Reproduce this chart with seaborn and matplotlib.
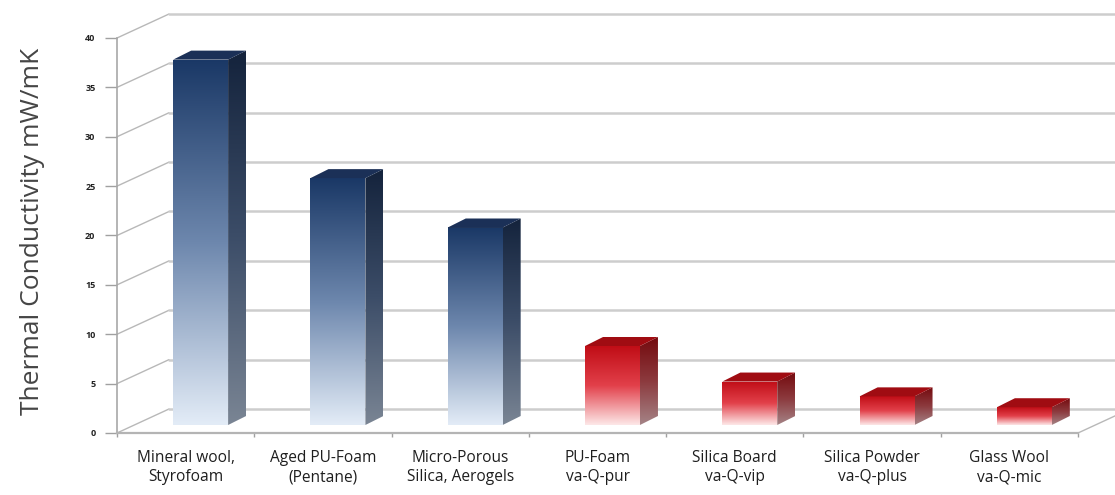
import numpy as np
import pandas as pd
import matplotlib
matplotlib.use('Agg')
import matplotlib.pyplot as plt
import matplotlib.transforms as mtransforms
from matplotlib.colors import LinearSegmentedColormap
from matplotlib.patches import Polygon
import seaborn as sns

# data
materials = ['Mineral wool,\nStyrofoam', 'Aged PU-Foam\n(Pentane)', 'Micro-Porous\nSilica, Aerogels',
             'PU-Foam\nva-Q-pur', 'Silica Board\nva-Q-vip', 'Silica Powder\nva-Q-plus',
             'Glass Wool\nva-Q-mic']
conductivity = [37, 25, 20, 8, 4.4, 2.9, 1.8]
kind = ['conventional'] * 3 + ['vip'] * 4
y_ticks = [0, 5, 10, 15, 20, 25, 30, 35, 40]

# gradient colours: (bottom, mid, top)
styles = {
    'conventional': dict(front=('#e3ecf7', '#6d87ad', '#1a3866'), side=('#7a8594', '#3c4d68', '#14233c'),
                         top='#1b3057'),
    'vip': dict(front=('#fde8e8', '#e2404a', '#c00d16'), side=('#a58487', '#8c3a3e', '#740a0e'),
                top='#a00c12'),
}

sns.set_style('white')
plt.rcParams['font.family'] = ['Open Sans', 'DejaVu Sans']

W, H = 1115, 495
fig = plt.figure(figsize=(W / 100, H / 100), dpi=100)
ax_l, ax_r, ax_b, ax_t = 117, 1078, 433, 38
ax = fig.add_axes([ax_l / W, (H - ax_b) / H, (ax_r - ax_l) / W, (ax_b - ax_t) / H])

df = pd.DataFrame({'material': materials, 'value': conductivity, 'kind': kind})
sns.barplot(data=df, x='material', y='value', hue='material', dodge=False, width=0.4,
            palette=['#1a3866'] * 3 + ['#c30f18'] * 4, legend=False, ax=ax, zorder=2)

# pixel -> data unit helpers
px_x = (ax_r - ax_l) / 7.0
px_y = (ax_b - ax_t) / 40.0

# back wall / side wall
wdx, wdy = 52 / px_x, 24 / px_y
for yv in y_ticks:
    ax.plot([-0.5, -0.5 + wdx], [yv, yv + wdy], color='#b8b8b8', lw=1.0, clip_on=False, zorder=0)
    ax.plot([-0.5 + wdx, 7.6], [yv + wdy, yv + wdy], color='#cdcdcd', lw=1.8, clip_on=False, zorder=0)
ax.plot([6.5, 6.5 + wdx], [0, wdy], color='#b8b8b8', lw=1.0, clip_on=False, zorder=0)

# 3d-ish bars
bar_off = ax.transData + mtransforms.ScaledTranslation(15 / 100, 8 / 100, fig.dpi_scale_trans)
ddx, ddy = 18 / px_x, 9 / px_y


def gradient(extent, cols, clip, z):
    cmap = LinearSegmentedColormap.from_list('g', list(cols))
    im = ax.imshow(np.linspace(0, 1, 256).reshape(-1, 1), cmap=cmap, extent=extent,
                   origin='lower', aspect='auto', transform=bar_off, zorder=z,
                   interpolation='bicubic')
    im.set_clip_path(clip)


patches = sorted([p for p in ax.patches if p.get_height() > 0], key=lambda p: p.get_x())
for p, k in zip(patches, kind):
    st = styles[k]
    x0, w, h = p.get_x(), p.get_width(), p.get_height()
    x1 = x0 + w
    p.set_transform(bar_off)
    p.set_edgecolor('none')
    gradient([x0, x1, 0, h], st['front'], p, 4)

    side = Polygon([(x1, 0), (x1 + ddx, ddy), (x1 + ddx, h + ddy), (x1, h)], closed=True,
                   facecolor='none', edgecolor='none', transform=bar_off, zorder=3)
    ax.add_patch(side)
    gradient([x1, x1 + ddx, 0, h + ddy], st['side'], side, 4)

    top = Polygon([(x0, h), (x1, h), (x1 + ddx, h + ddy), (x0 + ddx, h + ddy)], closed=True,
                  facecolor=st['top'], edgecolor='none', transform=bar_off, zorder=5)
    ax.add_patch(top)

ax.set_xlim(-0.5, 6.5)
ax.set_ylim(0, 40)
ax.set_yticks(y_ticks)
ax.set_yticklabels([str(v) for v in y_ticks], fontweight='bold')
ax.set_xticks(np.arange(-0.5, 7, 1), minor=True)

for s in ['top', 'right']:
    ax.spines[s].set_visible(False)
ax.spines['left'].set_color('#a8a8a8')
ax.spines['left'].set_linewidth(1.2)
ax.spines['bottom'].set_color('#b4b4b4')
ax.spines['bottom'].set_linewidth(1.6)

ax.tick_params(axis='y', left=True, length=8.5, width=1, color='#a0a0a0', labelsize=6.5,
               labelcolor='#222222', pad=7)
ax.tick_params(axis='x', which='major', bottom=False, length=0, labelsize=11.2,
               labelcolor='#1e1e1e', pad=12)
ax.tick_params(axis='x', which='minor', bottom=True, length=3, width=1, color='#a0a0a0')
for lab in ax.get_xticklabels():
    lab.set_linespacing(1.3)

ax.set_xlabel('')
ax.set_ylabel('Thermal Conductivity mW/mK', fontsize=19, color='#454545')
ax.yaxis.set_label_coords((45 - ax_l) / (ax_r - ax_l), 0.51)

fig.savefig('out.png', dpi=100, facecolor='white')
